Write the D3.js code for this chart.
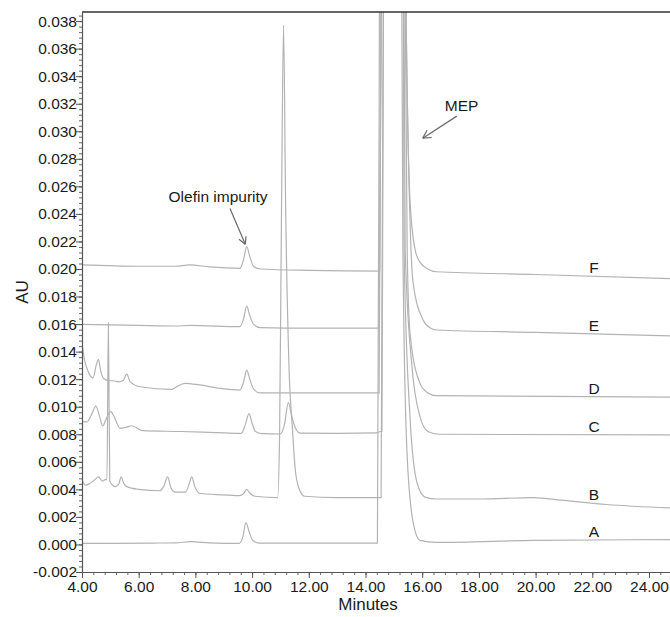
<!DOCTYPE html>
<html>
<head>
<meta charset="utf-8">
<script src="https://cdn.jsdelivr.net/npm/d3@7"></script>
<style>
body { margin: 0; background: #fff; }
svg { display: block; font-family: "Liberation Sans", Arial, sans-serif; }
</style>
</head>
<body>
<svg id="chrom" width="670" height="617"></svg>
<script>
// chromatogram traces, [minutes, AU]; MEP apex is way off scale so it gets clipped
const traceA = [[4.00, 0.00008], [5.0, 0.00008], [6.5, 0.0001], [7.3, 0.00012], [7.85, 0.0002], [8.5, 0.00012],
    [9.55, 0.00008], [9.68, 0.0006], [9.78, 0.00158], [9.90, 0.0009], [10.02, 0.0003], [10.25, 0.0001],
    [12.0, 0.0001], [14.42, 0.0001], [14.50, 0.045], [14.9, 0.5], [15.27, 0.045], [15.32, 0.0214],
    [15.46, 0.0069], [15.68, 0.0016], [15.92, 0.0003], [16.5, 0.00015], [20.0, 0.0003], [24.74, 0.00035]];

const traceB = [[4.00, 0.0047], [4.12, 0.0043], [4.25, 0.0044], [4.45, 0.0047], [4.58, 0.0049], [4.72, 0.0046],
    [4.82, 0.0047], [4.88, 0.0047], [4.93, 0.0161], [4.98, 0.0046], [5.08, 0.0043], [5.16, 0.0042],
    [5.30, 0.0044], [5.38, 0.0049], [5.48, 0.0044], [5.58, 0.0042], [6.0, 0.0040], [6.75, 0.0039],
    [6.88, 0.0042], [7.02, 0.0049], [7.14, 0.0041], [7.28, 0.0038], [7.65, 0.0038], [7.78, 0.0044],
    [7.87, 0.0049], [7.98, 0.0042], [8.16, 0.0037], [9.0, 0.0036], [9.57, 0.00354], [9.70, 0.0037],
    [9.81, 0.0040], [9.93, 0.0037], [10.1, 0.0035], [10.9, 0.0034], [10.97, 0.008], [11.04, 0.025],
    [11.11, 0.0377], [11.18, 0.025], [11.30, 0.013], [11.42, 0.0085], [11.52, 0.0055], [11.65, 0.0041],
    [11.85, 0.0035], [13.0, 0.0034], [14.55, 0.0034], [14.64, 0.045], [14.95, 0.5], [15.33, 0.045],
    [15.36, 0.0214], [15.57, 0.00925], [15.82, 0.00446], [16.1, 0.00344], [16.5, 0.0033], [18.0, 0.0033],
    [19.9, 0.0034], [21.0, 0.0032], [22.5, 0.0029], [24.74, 0.00265]];

const traceC = [[4.00, 0.0089], [4.18, 0.0089], [4.35, 0.0095], [4.49, 0.01005], [4.62, 0.0093], [4.73, 0.0086],
    [4.85, 0.0091], [5.01, 0.00964], [5.15, 0.0092], [5.34, 0.00843], [5.55, 0.0085], [5.75, 0.00862],
    [6.15, 0.00826], [7.5, 0.0082], [9.0, 0.0081], [9.62, 0.00807], [9.76, 0.0087], [9.89, 0.0095],
    [10.0, 0.0088], [10.12, 0.0082], [10.35, 0.00805], [11.0, 0.00802], [11.14, 0.0087], [11.28, 0.0103],
    [11.40, 0.0093], [11.52, 0.0085], [11.7, 0.00808], [13.0, 0.00807], [14.4, 0.0081], [14.52, 0.0082],
    [14.58, 0.0082], [14.64, 0.045], [15.0, 0.5], [15.35, 0.045], [15.40, 0.0214], [15.64, 0.0129],
    [15.92, 0.0093], [16.2, 0.0082], [16.6, 0.0080], [24.74, 0.00795]];

const traceD = [[4.00, 0.0146], [4.08, 0.0135], [4.22, 0.01254], [4.39, 0.0121], [4.50, 0.0130], [4.58, 0.01344],
    [4.66, 0.0126], [4.76, 0.01205], [4.95, 0.0119], [5.16, 0.01187], [5.30, 0.0118], [5.45, 0.0119],
    [5.58, 0.01237], [5.70, 0.0118], [6.05, 0.01145], [7.16, 0.01126], [7.3, 0.0114], [7.63, 0.0117],
    [8.15, 0.01158], [8.85, 0.01134], [9.57, 0.01121], [9.70, 0.0118], [9.81, 0.01266], [9.92, 0.0120],
    [10.05, 0.0113], [10.28, 0.0110], [12.0, 0.0110], [14.48, 0.0110], [14.56, 0.045], [14.95, 0.5],
    [15.38, 0.045], [15.47, 0.0214], [15.57, 0.01535], [15.92, 0.0117], [16.2, 0.0110], [16.5, 0.0108],
    [24.74, 0.0107]];

const traceE = [[4.00, 0.01598], [6.0, 0.0159], [7.3, 0.01586], [7.8, 0.0159], [9.57, 0.01581], [9.70, 0.0164],
    [9.81, 0.01731], [9.92, 0.0166], [10.05, 0.0160], [10.28, 0.01575], [12.0, 0.0157], [14.48, 0.0157],
    [14.56, 0.045], [14.95, 0.5], [15.40, 0.045], [15.60, 0.0217], [15.68, 0.019], [16.03, 0.0163],
    [16.3, 0.0157], [16.52, 0.01557], [20.0, 0.0154], [24.74, 0.01515]];

const traceF = [[4.00, 0.0203], [6.0, 0.0202], [7.3, 0.0202], [7.8, 0.0203], [8.5, 0.02015], [9.57, 0.02005],
    [9.70, 0.0207], [9.81, 0.02162], [9.92, 0.0209], [10.05, 0.0202], [10.28, 0.0200], [12.0, 0.0199],
    [14.50, 0.01985], [14.57, 0.045], [14.95, 0.5], [15.40, 0.045], [15.57, 0.0250], [15.75, 0.0214],
    [15.92, 0.0205], [16.2, 0.0200], [16.5, 0.0198], [20.0, 0.0196], [24.74, 0.0193]];

const sampleNames = ["A", "B", "C", "D", "E", "F"];
const sampleTraces = [traceA, traceB, traceC, traceD, traceE, traceF];
const labelTime = 22.06;

const xTicks = d3.range(4, 25, 2);              // 4.00 ... 24.00
const yTicks = d3.range(-2, 39, 2).map(d => d / 1000);   // -0.002 ... 0.038

let svg = d3.select("#chrom");

// plot frame
let plotLeft = 82, plotRight = 670, plotTop = 12, plotBottom = 572;

let x = d3.scaleLinear().domain([4, 24.741]).range([plotLeft, plotRight]);
let y = d3.scaleLinear().domain([-0.002, 0.03866]).range([plotBottom, plotTop]);

svg.append("defs").append("clipPath").attr("id", "plot-clip")
    .append("rect")
    .attr("x", plotLeft).attr("y", plotTop)
    .attr("width", plotRight - plotLeft).attr("height", plotBottom - plotTop);

// traces
let line = d3.line()
    .x(function (d) { return x(d[0]); })
    .y(function (d) { return y(d[1]); })
    .curve(d3.curveMonotoneX);

svg.append("g")
    .attr("clip-path", "url(#plot-clip)")
    .selectAll("path")
    .data(sampleTraces)
    .enter().append("path")
    .attr("d", line)
    .attr("fill", "none")
    .attr("stroke", "#b3b3b3")
    .attr("stroke-width", 1.2)
    .attr("stroke-linejoin", "round");

// minor ticks (0.4 min / 0.0004 AU)
let xMinor = d3.range(0, 52).map(i => 4 + i * 0.4).filter(v => v <= 24.74);
let yMinor = d3.range(-20, 387, 4).map(i => i / 10000);

svg.append("g")
    .attr("transform", "translate(0," + plotBottom + ")")
    .call(d3.axisBottom(x).tickValues(xMinor).tickSize(3).tickSizeOuter(0).tickFormat(""))
    .call(g => g.select(".domain").remove())
    .selectAll("line").attr("stroke", "#666");

svg.append("g")
    .attr("transform", "translate(" + plotLeft + ",0)")
    .call(d3.axisLeft(y).tickValues(yMinor).tickSize(3).tickSizeOuter(0).tickFormat(""))
    .call(g => g.select(".domain").remove())
    .selectAll("line").attr("stroke", "#666");

// major axes
let xAxis = svg.append("g")
    .attr("transform", "translate(0," + plotBottom + ")")
    .call(d3.axisBottom(x).tickValues(xTicks).tickSize(6).tickSizeOuter(0)
        .tickFormat(function (d) { return d.toFixed(2); }));

let yAxis = svg.append("g")
    .attr("transform", "translate(" + plotLeft + ",0)")
    .call(d3.axisLeft(y).tickValues(yTicks).tickSize(6).tickSizeOuter(0)
        .tickFormat(function (d) { return d.toFixed(3); }));

[xAxis, yAxis].forEach(function (ax) {
    ax.select(".domain").attr("stroke", "#555").attr("stroke-width", 1.2);
    ax.selectAll(".tick line").attr("stroke", "#555");
    ax.selectAll(".tick text")
        .attr("fill", "#1a1a1a")
        .style("font-family", "Liberation Sans, Arial, sans-serif")
        .style("font-size", "15.5px");
});
xAxis.selectAll(".tick text").attr("dy", "0.95em").attr("y", 5);
yAxis.selectAll(".tick text").attr("x", -5);

// top frame line
svg.append("line")
    .attr("x1", plotLeft).attr("x2", plotRight)
    .attr("y1", plotTop).attr("y2", plotTop)
    .attr("stroke", "#333").attr("stroke-width", 1.5);

// axis titles
svg.append("text")
    .attr("x", 368).attr("y", 610)
    .attr("text-anchor", "middle")
    .style("font-size", "17px").attr("fill", "#1a1a1a")
    .text("Minutes");

svg.append("text")
    .attr("transform", "translate(28,292) rotate(-90)")
    .attr("text-anchor", "middle")
    .style("font-size", "17px").attr("fill", "#1a1a1a")
    .text("AU");

// sample letters, placed just above each trace
function valueAt(trace, t) {
    let i = d3.bisector(d => d[0]).right(trace, t);
    let a = trace[i - 1], b = trace[i];
    return a[1] + (b[1] - a[1]) * (t - a[0]) / (b[0] - a[0]);
}

svg.append("g").selectAll("text")
    .data(sampleTraces)
    .enter().append("text")
    .attr("x", x(labelTime))
    .attr("y", d => y(valueAt(d, labelTime)) - 3)
    .attr("text-anchor", "middle")
    .style("font-size", "15.5px").attr("fill", "#1a1a1a")
    .text((d, i) => sampleNames[i]);

// annotations with open arrowheads
function arrow(x1, y1, x2, y2, len) {
    let ang = Math.atan2(y2 - y1, x2 - x1);
    let g = svg.append("g").attr("stroke", "#6a6a6a").attr("stroke-width", 1.2).attr("fill", "none");
    g.append("line").attr("x1", x1).attr("y1", y1).attr("x2", x2).attr("y2", y2);
    [-0.5, 0.5].forEach(function (da) {
        g.append("line")
            .attr("x1", x2).attr("y1", y2)
            .attr("x2", x2 - len * Math.cos(ang + da))
            .attr("y2", y2 - len * Math.sin(ang + da));
    });
}

svg.append("text")
    .attr("x", x(8.80)).attr("y", y(0.0249))
    .attr("text-anchor", "middle")
    .style("font-size", "15.5px").attr("fill", "#1a1a1a")
    .text("Olefin impurity");
arrow(x(9.22), y(0.0244), x(9.76), y(0.0218), 8);

svg.append("text")
    .attr("x", x(17.39)).attr("y", y(0.0315))
    .attr("text-anchor", "middle")
    .style("font-size", "15.5px").attr("fill", "#1a1a1a")
    .text("MEP");
arrow(x(17.22), y(0.0311), x(16.02), y(0.0295), 9);
</script>
</body>
</html>
